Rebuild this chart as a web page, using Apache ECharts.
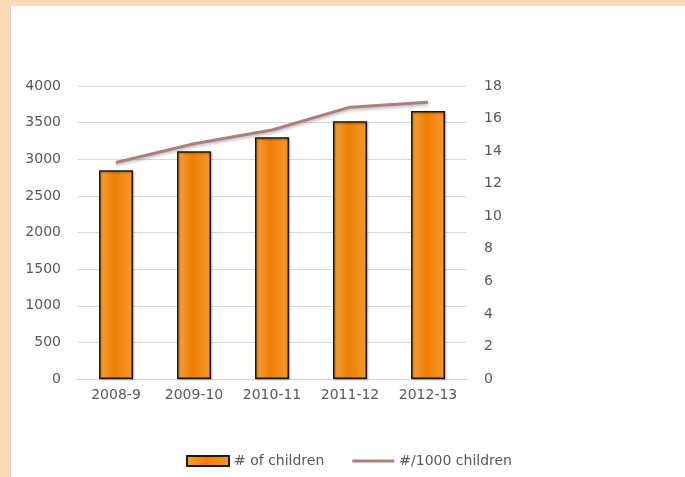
<!DOCTYPE html>
<html>
<head>
<meta charset="utf-8">
<script src="https://cdn.jsdelivr.net/npm/echarts@6/dist/echarts.min.js"></script>
<style>
  html, body { margin: 0; padding: 0; background: #fcd8b3; width: 685px; height: 477px; overflow: hidden; }
  #main { position: absolute; left: 10px; top: 5px; width: 674px; height: 472px; background: #fff; border-left: 1px solid #d6d6d6; border-top: 1px solid #e4e4e4; }
</style>
</head>
<body>
<div id="main"></div>
<script>
var years = ['2008-9', '2009-10', '2010-11', '2011-12', '2012-13'];
var children = [2850, 3110, 3300, 3520, 3660];
var perThousand = [13.3, 14.45, 15.3, 16.7, 17.0];

var chart = echarts.init(document.getElementById('main'), null, { renderer: 'canvas' });
var txt = { color: '#595959', fontSize: 14, fontFamily: 'DejaVu Sans, Verdana, sans-serif' };
var plain = function (v) { return String(v); };

var option = {
  animation: false,
  grid: { left: 66, right: 218, top: 80, bottom: 99 },
  legend: {
    left: 170,
    top: 443,
    itemWidth: 42,
    itemHeight: 10,
    itemGap: 28,
    textStyle: txt,
    data: [
      { name: '# of children', icon: 'rect' },
      { name: '#/1000 children', icon: 'path://M0,0 M0,3.6 H42 V6.4 H0 Z M42,10' }
    ]
  },
  xAxis: {
    type: 'category',
    data: years,
    axisLine: { lineStyle: { color: '#d9d9d9' } },
    axisTick: { show: false },
    axisLabel: Object.assign({ margin: 9 }, txt)
  },
  yAxis: [{
    type: 'value',
    min: 0, max: 4000, interval: 500,
    axisLine: { show: false },
    axisTick: { show: false },
    splitLine: { lineStyle: { color: '#d9d9d9' } },
    axisLabel: Object.assign({ margin: 16, formatter: plain }, txt)
  }, {
    type: 'value',
    min: 0, max: 18, interval: 2,
    axisLine: { show: false },
    axisTick: { show: false },
    splitLine: { show: false },
    axisLabel: Object.assign({ margin: 17, formatter: plain }, txt)
  }],
  series: [{
    name: '# of children',
    type: 'bar',
    data: children,
    barWidth: 34,
    itemStyle: {
      color: new echarts.graphic.LinearGradient(0, 0, 1, 0, [
        { offset: 0, color: '#f7a23c' },
        { offset: 0.45, color: '#ef7f05' },
        { offset: 1, color: '#f49a2c' }
      ]),
      borderColor: '#1a1a1a',
      borderWidth: 1.5,
      shadowColor: 'rgba(0,0,0,0.35)',
      shadowBlur: 2,
      shadowOffsetX: 1,
      shadowOffsetY: 1
    }
  }, {
    name: '#/1000 children',
    type: 'line',
    yAxisIndex: 1,
    data: perThousand,
    symbol: 'none',
    lineStyle: {
      color: '#ac7f7c',
      width: 3,
      shadowColor: 'rgba(0,0,0,0.25)',
      shadowBlur: 3,
      shadowOffsetY: 2
    },
    itemStyle: { color: '#ac7f7c' }
  }]
};

chart.setOption(option);
</script>
</body>
</html>
